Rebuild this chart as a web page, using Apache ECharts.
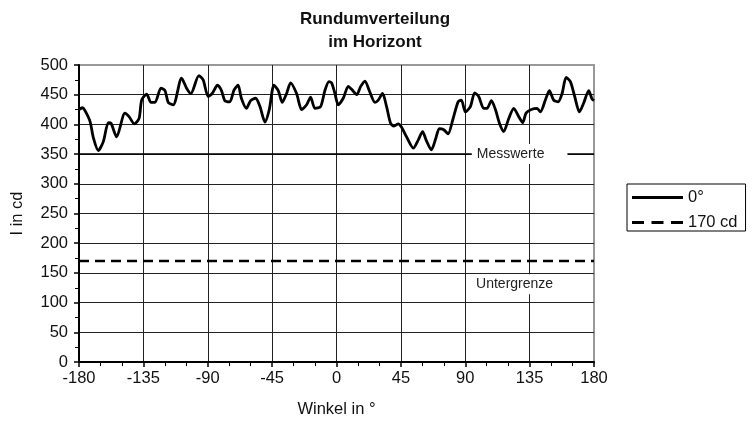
<!DOCTYPE html>
<html>
<head>
<meta charset="utf-8">
<script src="https://cdn.jsdelivr.net/npm/echarts@6/dist/echarts.min.js"></script>
<style>
html,body{margin:0;padding:0;background:#fff;}
#c{width:752px;height:426px;}
</style>
</head>
<body>
<div id="c"></div>
<script>
// ---- data ----
const angles = [
  -180, -177.7, -176, -172.3, -169.9, -166.5, -163, -159.5, -157.6, -153.7,
  -147.9, -145, -141.3, -138, -136.2, -132.7, -129.7, -126.9, -122.7, -119.9,
  -117.6, -114.1, -108.3, -104.8, -101.8, -96.2, -93.2, -89.7, -86.9, -83.2,
  -80.4, -78.1, -74.6, -71.6, -68.8, -66.5, -63, -60, -56.5, -53.5,
  -50, -47, -43.7, -40.7, -37.9, -34.9, -32.1, -27.9, -24.4, -20.9,
  -18.1, -15.1, -11.1, -8.1, -5.3, -3.4, -1.1, 1.2, 4.7, 8.2,
  10.6, 14.1, 16.9, 19.9, 22.9, 26.9, 29.2, 32.2, 35, 37.8,
  40.2, 43.2, 45.5, 49, 53.7, 57.2, 60.2, 62.6, 66.3, 69.1,
  71.9, 75, 78, 81.2, 85, 87.3, 90.1, 93.6, 96.6, 99.4,
  102.9, 105.2, 108.3, 111.1, 113.9, 116.9, 120.4, 123.9, 127.4, 130.2,
  132.5, 136.2, 140.2, 142.5, 146, 148.8, 151.8, 154.9, 157.7, 160.5,
  163.5, 166.5, 169.8, 172.8, 176.3, 178.6, 180
];
const values0 = [
  425, 428, 424, 405, 377, 356, 371, 403, 402, 379,
  419, 413, 401, 410, 441, 451, 437, 437, 461, 457,
  437, 433, 478, 461, 452, 482, 475, 447, 452, 466,
  457, 440, 438, 458, 466, 444, 427, 440, 444, 430,
  404, 425, 466, 457, 437, 452, 470, 452, 425, 433,
  446, 427, 430, 457, 472, 470, 452, 433, 444, 464,
  459, 450, 464, 473, 457, 437, 441, 452, 430, 402,
  397, 401, 395, 379, 360, 374, 388, 374, 357, 374,
  393, 391, 384, 407, 438, 441, 421, 430, 453, 447,
  427, 427, 440, 425, 402, 388, 410, 427, 413, 403,
  419, 425, 427, 421, 441, 457, 441, 438, 452, 479,
  472, 447, 421, 436, 457, 443, 440
];
const limitAngles = [-180, 180];
const limitValues = [170, 170];
const messLevel = 350;
const xTickLabels = [-180, -135, -90, -45, 0, 45, 90, 135, 180];
const seriesNames = ['0°', '170 cd'];
const noteTexts = ['Messwerte', 'Untergrenze'];
const notePos = [[128, 350], [124.5, 131]];

// ---- chart ----
const FONT = 'Liberation Sans, Arial, sans-serif';
const FS = 16.5;
const chart = echarts.init(document.getElementById('c'), null, {renderer: 'canvas'});
const mainData = angles.map((a, i) => [a, values0[i]]);
const limitData = limitAngles.map((a, i) => [a, limitValues[i]]);

const solidIcon = 'path://M0,0h51v3h-51z';
const dashIcon = 'path://M0,0h12v3h-12zM19.5,0h12v3h-12zM39,0h12v3h-12z';

chart.setOption({
  animation: false,
  backgroundColor: '#fff',
  textStyle: {fontFamily: FONT},
  title: {
    text: 'Rundumverteilung\nim Horizont',
    left: 370,
    top: 3,
    textAlign: 'center',
    textStyle: {fontSize: 17, fontWeight: 'bold', color: '#111', lineHeight: 23, fontFamily: FONT}
  },
  grid: {
    left: 79, right: 158, top: 65, bottom: 64,
    show: true, borderColor: '#999', borderWidth: 2, backgroundColor: 'transparent'
  },
  legend: {
    orient: 'vertical',
    left: 627, top: 184,
    data: [
      {name: seriesNames[0], icon: solidIcon},
      {name: seriesNames[1], icon: dashIcon}
    ],
    borderColor: '#000', borderWidth: 1,
    padding: [5, 8, 0, 5],
    itemWidth: 51, itemHeight: 14, itemGap: 8,
    textStyle: {fontSize: FS, color: '#111', fontFamily: FONT}
  },
  xAxis: {
    type: 'value',
    min: -180, max: 180, interval: 45,
    name: 'Winkel in °',
    nameLocation: 'middle',
    nameGap: 39,
    nameTextStyle: {fontSize: FS, color: '#111', fontFamily: FONT},
    axisLine: {show: true, onZero: false, lineStyle: {color: '#000', width: 2}},
    axisTick: {show: true, length: 5, lineStyle: {color: '#000', width: 1.5}},
    minorTick: {show: true, splitNumber: 3, length: 4, lineStyle: {color: '#000', width: 1}},
    axisLabel: {
      fontSize: FS, color: '#111', margin: 8, fontFamily: FONT,
      formatter: v => (xTickLabels.indexOf(v) >= 0 ? String(v) : '')
    },
    splitLine: {show: true, showMinLine: false, showMaxLine: false, lineStyle: {color: '#222', width: 1}}
  },
  yAxis: {
    type: 'value',
    min: 0, max: 500, interval: 50,
    name: 'I in cd',
    nameLocation: 'middle',
    nameGap: 53,
    nameTextStyle: {fontSize: FS, color: '#111', fontFamily: FONT},
    axisLine: {show: true, onZero: false, lineStyle: {color: '#000', width: 2}},
    axisTick: {show: true, length: 5, lineStyle: {color: '#000', width: 1.5}},
    minorTick: {show: true, splitNumber: 2, length: 4, lineStyle: {color: '#000', width: 1}},
    axisLabel: {fontSize: FS, color: '#111', margin: 11, fontFamily: FONT},
    splitLine: {show: true, showMinLine: false, showMaxLine: false, lineStyle: {color: '#222', width: 1}}
  },
  series: [
    {
      name: seriesNames[0],
      type: 'line',
      data: mainData,
      symbol: 'none',
      smooth: 0.25,
      lineStyle: {color: '#000', width: 2.8},
      itemStyle: {color: '#000'},
      z: 3,
      markLine: {
        silent: true,
        symbol: ['none', 'none'],
        label: {show: false},
        lineStyle: {color: '#000', width: 1.6, type: 'solid'},
        data: [{yAxis: messLevel}],
        z: 4
      }
    },
    {
      name: seriesNames[1],
      type: 'line',
      data: limitData,
      symbol: 'none',
      lineStyle: {color: '#000', width: 2.6, type: [10, 6]},
      itemStyle: {color: '#000'},
      z: 3,
      markPoint: {
        silent: true,
        z: 8,
        symbol: 'rect',
        symbolSize: 0,
        data: [
          {coord: notePos[0], value: noteTexts[0],
           label: {padding: [3, 23, 3, 5]}},
          {coord: notePos[1], value: noteTexts[1],
           label: {padding: [3, 4, 3, 4]}}
        ],
        label: {
          show: true, position: 'inside',
          formatter: p => p.value,
          fontSize: 14, color: '#222', fontFamily: FONT,
          backgroundColor: '#fff'
        }
      }
    }
  ]
});
</script>
</body>
</html>
